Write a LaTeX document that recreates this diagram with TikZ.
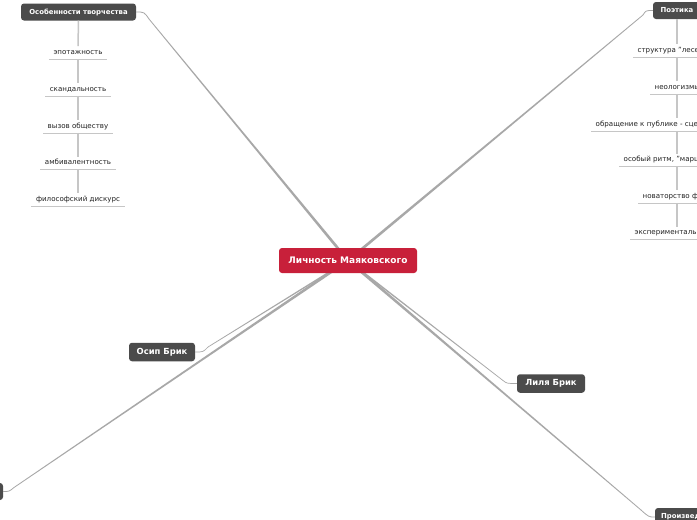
\documentclass[tikz,border=0pt]{standalone}
\usepackage{fontspec}
\setmainfont{DejaVu Sans}
\usetikzlibrary{calc,backgrounds}
\definecolor{rootred}{HTML}{C8203A}
\definecolor{darknode}{HTML}{4B4B4B}
\definecolor{connc}{HTML}{A8A8A8}
\definecolor{subc}{HTML}{C6C6C6}
\definecolor{subtext}{HTML}{222222}
\newcommand\taperconn[4]{\fill[connc] ($(#1)!#3!90:(#2)$) -- ($(#2)!#4!-90:(#1)$) -- ($(#2)!#4!90:(#1)$) -- ($(#1)!#3!-90:(#2)$) -- cycle;}
\begin{document}
\begin{tikzpicture}[x=1pt,y=-1pt,
 rootbox/.style={fill=rootred, rounded corners=3pt, text=white, font=\bfseries\fontsize{9}{10}\selectfont, minimum width=138pt, minimum height=25pt, inner sep=0pt},
 topicbox/.style={fill=darknode, rounded corners=3pt, text=white, font=\bfseries\fontsize{6.9}{8}\selectfont, minimum height=17pt, inner sep=0pt},
 personbox/.style={fill=darknode, rounded corners=3pt, text=white, font=\bfseries\fontsize{8.4}{10}\selectfont, minimum height=18.5pt, inner sep=0pt},
 subitem/.style={font=\fontsize{7.1}{8}\selectfont, text=subtext, inner xsep=4.5pt, inner ysep=3pt, text height=5pt, text depth=1.5pt},
 subline/.style={draw=subc, line width=1.5pt},
 underl/.style={draw=subc, line width=0.9pt},
 bendc/.style={draw=connc, line width=0.8pt}]
\useasboundingbox (0,0) rectangle (697,520);
\clip (0,0) rectangle (697,520);
% central node and topics
\node[rootbox] (root) at (348,260.5) {Личность Маяковского};
\node[topicbox, minimum width=115pt] (osob) at (78.5,12) {Особенности творчества};
\node[topicbox, minimum width=48pt] (poet) at (677,10.5) {Поэтика};
\node[personbox, minimum width=66pt] (osip) at (162,352) {Осип Брик};
\node[personbox, minimum width=68pt] (lilya) at (551,383.5) {Лиля Брик};
\node[topicbox, minimum width=70pt, minimum height=18pt] (proiz) at (690,517) {Произведения};
\node[topicbox, minimum width=60pt] (leftn) at (-27,491.5) {};
% bend points
\coordinate (bo) at (149,19);
\coordinate (bp) at (643,15);
\coordinate (bs) at (208,347);
\coordinate (bl) at (14,487.5);
\coordinate (bli) at (503,380.5);
\coordinate (bpr) at (641,510);
\begin{scope}[on background layer]
\fill[white] (0,0) rectangle (697,520);
\taperconn{root.center}{bo}{1.4pt}{0.4pt}
\taperconn{root.center}{bp}{1.4pt}{0.4pt}
\taperconn{root.center}{bs}{0.8pt}{0.35pt}
\taperconn{root.center}{bl}{1.4pt}{0.4pt}
\taperconn{root.center}{bli}{0.8pt}{0.35pt}
\taperconn{root.center}{bpr}{1.4pt}{0.4pt}
\end{scope}
\draw[bendc] (bo) .. controls ($(osob.east)+(8,0)$) .. (osob.east);
\draw[bendc] (bp) .. controls ($(poet.west)+(-7,0)$) .. (poet.west);
\draw[bendc,line width=0.7pt] (bs) .. controls ($(osip.east)+(8,0)$) .. (osip.east);
\draw[bendc] (bl) .. controls ($(leftn.east)+(6,0)$) .. (leftn.east);
\draw[bendc,line width=0.7pt] (bli) .. controls ($(lilya.west)+(-10,0)$) .. (lilya.west);
\draw[bendc] (bpr) .. controls ($(proiz.west)+(-6,0)$) .. (proiz.west);
% left sub-items
\node[subitem] (s1) at (78,52.5) {эпотажность};
\node[subitem] (s2) at (78,89.5) {скандальность};
\node[subitem] (s3) at (78,126.5) {вызов обществу};
\node[subitem] (s4) at (78,163) {амбивалентность};
\node[subitem] (s5) at (78,199.5) {философский дискурс};
\foreach \s in {s1,s2,s3,s4,s5}{\draw[underl] (\s.south west) -- (\s.south east);}
\draw[subline] (osob.south) -- (s1.north);
\draw[subline] (s1.south) -- (s2.north);
\draw[subline] (s2.south) -- (s3.north);
\draw[subline] (s3.south) -- (s4.north);
\draw[subline] (s4.south) -- (s5.north);
% right sub-items
\node[subitem, anchor=west] (p1) at (633,50.5) {структура "лесенки"};
\node[subitem, anchor=west] (p2) at (650,87.5) {неологизмы};
\node[subitem, anchor=west] (p3) at (591,124.5) {обращение к публике - сценичность};
\node[subitem, anchor=west] (p4) at (619,160) {особый ритм, "марш"};
\node[subitem, anchor=west] (p5) at (638,196.5) {новаторство формы};
\node[subitem, anchor=west] (p6) at (630,233) {экспериментальность};
\foreach \s in {p1,p2,p3,p4,p5,p6}{\draw[underl] (\s.south west) -- ++(120,0);}
\draw[subline] (poet.south) -- (p1.north -| poet.south);
\draw[subline] (p1.south -| poet.south) -- (p2.north -| poet.south);
\draw[subline] (p2.south -| poet.south) -- (p3.north -| poet.south);
\draw[subline] (p3.south -| poet.south) -- (p4.north -| poet.south);
\draw[subline] (p4.south -| poet.south) -- (p5.north -| poet.south);
\draw[subline] (p5.south -| poet.south) -- (p6.north -| poet.south);
\end{tikzpicture}
\end{document}
